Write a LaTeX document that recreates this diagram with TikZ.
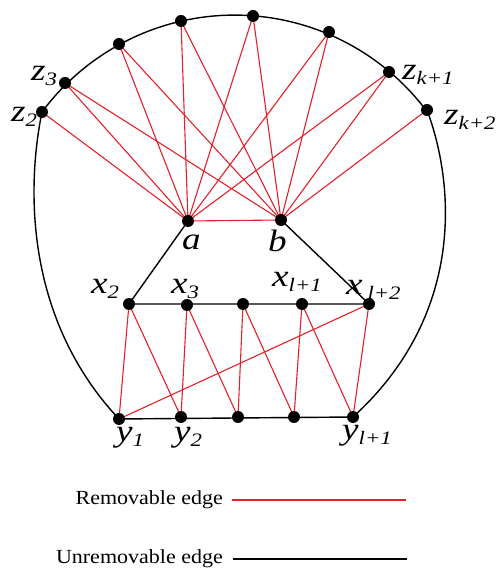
\documentclass[tikz,border=0pt]{standalone}
\usepackage{fontspec}
\setmainfont{Liberation Serif}
\usepackage{graphicx}
\usetikzlibrary{backgrounds}
\definecolor{EdgeRed}{HTML}{E4202A}
\newcommand{\vlab}[2]{\scalebox{1.2}[1]{\fontsize{31}{31}\selectfont\itshape #1\raisebox{-5pt}{\fontsize{19}{19}\selectfont #2}}}
\newcommand{\legtext}[1]{\scalebox{1.1}[1]{\fontsize{20}{20}\selectfont #1}}

\begin{document}
\begin{tikzpicture}[x=1pt,y=1pt,
  dot/.style={circle,fill=black,inner sep=0pt,minimum size=12pt},
  keep/.style={line width=1.4pt,black},
  rem/.style={line width=1.1pt,EdgeRed},
  vname/.style={inner sep=0pt,anchor=base west}]
  \useasboundingbox (0,0) rectangle (496,571);
  % outer vertices
  \node[dot] (z2) at (42,459) {};
  \node[dot] (z3) at (65,488) {};
  \node[dot] (z4) at (119,527) {};
  \node[dot] (z5) at (181,550) {};
  \node[dot] (z6) at (253,555) {};
  \node[dot] (zk) at (329,539) {};
  \node[dot] (zk1) at (389,499) {};
  \node[dot] (zk2) at (427,461) {};
  \node[dot] (a) at (188,350) {};
  \node[dot] (b) at (281,351) {};
  % ladder
  \node[dot] (x2) at (129,267) {};
  \node[dot] (x3) at (187,266) {};
  \node[dot] (xm) at (243,267) {};
  \node[dot] (xl1) at (302,267) {};
  \node[dot] (xl2) at (369,267) {};
  \node[dot] (y1) at (119,152) {};
  \node[dot] (y2) at (181,154) {};
  \node[dot] (y3) at (238,154) {};
  \node[dot] (y4) at (294,154) {};
  \node[dot] (yl1) at (353,154) {};

  \begin{scope}[on background layer]
    \draw[keep] (z2.center) arc[start angle=143.4,end angle=37,radius=240];
    \draw[keep] (zk2.center) .. controls (455,386) and (465,256) .. (yl1.center);
    \draw[keep] (z2.center) .. controls (26,381) and (26,251) .. (y1.center);
    \draw[keep] (a.center) -- (x2.center) -- (xl2.center) -- (b.center);
    \draw[keep] (y1.center) -- (yl1.center);
    \foreach \u/\v in {z2/a,z3/a,z3/b,z4/a,z4/b,z5/a,z5/b,z6/a,z6/b,zk/a,zk/b,zk1/a,zk1/b,zk2/b,a/b}
      \draw[rem] (\u.center) -- (\v.center);
    \foreach \u/\v in {x2/y1,x2/y2,x3/y2,x3/y3,xm/y3,xm/y4,xl1/y4,xl1/yl1,xl2/yl1,xl2/y1}
      \draw[rem] (\u.center) -- (\v.center);
  \end{scope}

  % labels
  \node[vname] (lz2) at (11,449) {\vlab{z}{2}};
  \node[vname] (lz3) at (31,490) {\vlab{z}{3}};
  \node[vname] (lzk1) at (402,491) {\vlab{z}{k+1}};
  \node[vname] (lzk2) at (444,446) {\vlab{z}{k+2}};
  \node[vname] (la) at (182,321) {\vlab{a}{}};
  \node[vname] (lb) at (268,319) {\vlab{b}{}};
  \node[vname] (lx2) at (91,277) {\vlab{x}{2}};
  \node[vname] (lx3) at (171,277) {\vlab{x}{3}};
  \node[vname] (lxl1) at (272,284) {\vlab{x}{l+1}};
  \node[vname] (lxl2) at (346,276) {\vlab{x}{\hspace{4pt}l+2}};
  \node[vname] (ly1) at (116,129) {\vlab{y}{1}};
  \node[vname] (ly2) at (174,129) {\vlab{y}{2}};
  \node[vname] (lyl1) at (342,131) {\vlab{y}{l+1}};

  % legend
  \coordinate (r1) at (232,71);
  \coordinate (r2) at (406,71);
  \coordinate (u1) at (233,12);
  \coordinate (u2) at (407,12);
  \draw[rem] (r1) -- (r2);
  \draw[keep] (u1) -- (u2);
  \node[anchor=east,inner sep=0pt] (lrem) at ([xshift=-9pt]r1) {\legtext{Removable edge}};
  \node[anchor=east,inner sep=0pt] (lkeep) at ([xshift=-10pt]u1) {\legtext{Unremovable edge}};
\end{tikzpicture}
\end{document}
